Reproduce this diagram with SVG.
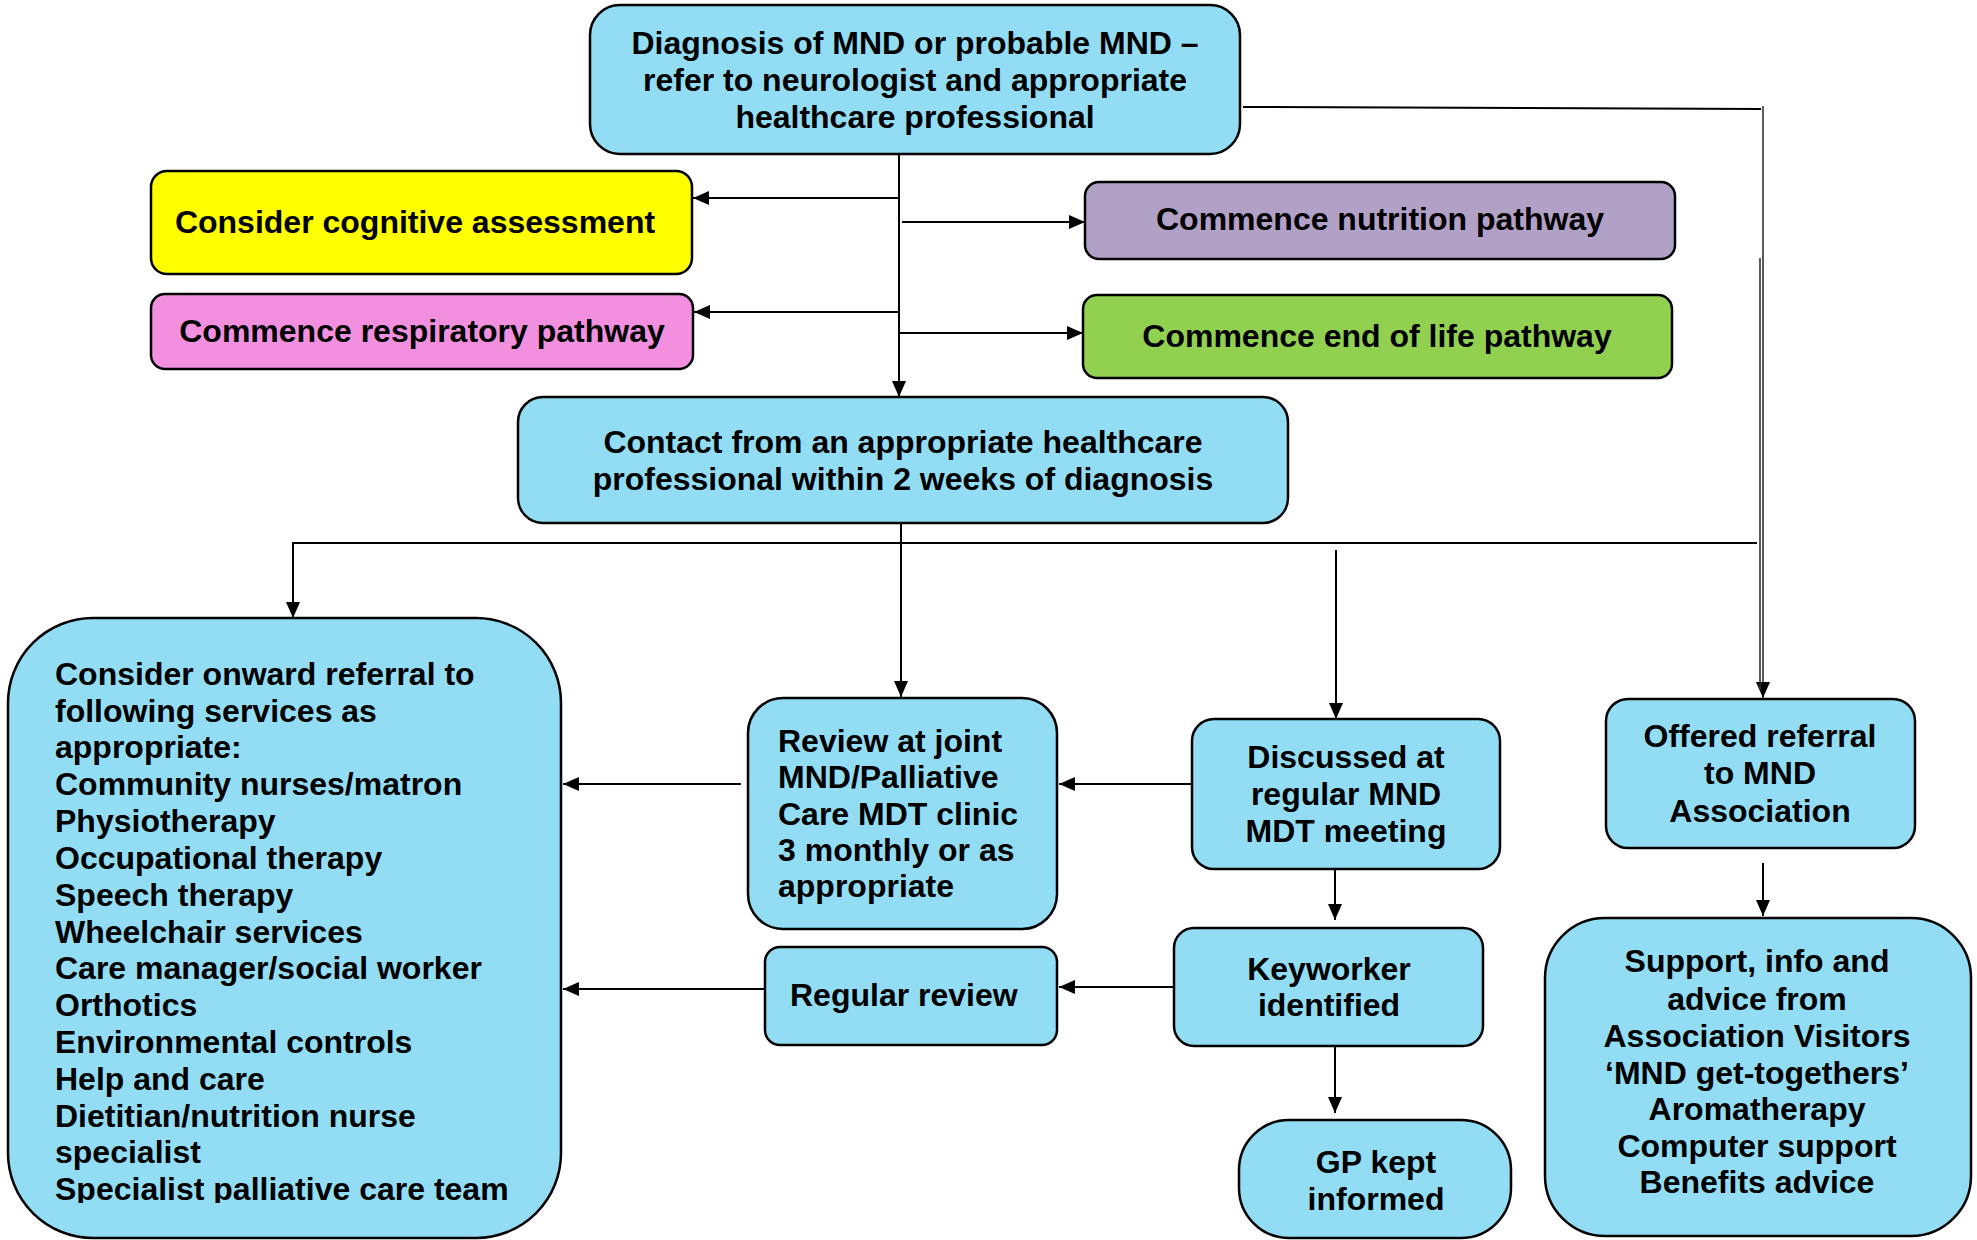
<svg xmlns="http://www.w3.org/2000/svg" width="1977" height="1240" viewBox="0 0 1977 1240">
<style>
.box{stroke:#000;stroke-width:2.5}
.blue{fill:#92DDF4}
.t{font-family:"Liberation Sans",Arial,sans-serif;font-weight:bold;font-size:32px;fill:#000}
.c{text-anchor:middle}
.ln{stroke:#000;stroke-width:2;fill:none}
.dl{stroke:#333;stroke-width:1.6;fill:none}
</style>
<defs>
<marker id="ah" markerUnits="userSpaceOnUse" markerWidth="16" markerHeight="14" refX="16" refY="7" orient="auto">
<path d="M0,0 L16,7 L0,14 z" fill="#000"/>
</marker>
<clipPath id="lclip"><rect x="0" y="600" width="600" height="603"/></clipPath>
</defs>
<rect width="1977" height="1240" fill="#fff"/>

<g id="connectors">
<path class="ln" d="M899,148 V397" marker-end="url(#ah)"/>
<path class="ln" d="M899,198 H693" marker-end="url(#ah)"/>
<path class="ln" d="M902,222 H1085" marker-end="url(#ah)"/>
<path class="ln" d="M899,312 H694" marker-end="url(#ah)"/>
<path class="ln" d="M899,333 H1083" marker-end="url(#ah)"/>
<path class="ln" d="M1243,107 L1761,109"/>
<path class="dl" d="M1763,106 V698" marker-end="url(#ah)"/>
<path class="dl" d="M1760,258 V690"/>
<path class="ln" d="M901,523 V697" marker-end="url(#ah)"/>
<path class="ln" d="M1757,543 H293 V618" marker-end="url(#ah)"/>
<path class="ln" d="M1336,550 V719" marker-end="url(#ah)"/>
<path class="ln" d="M741,784 H563" marker-end="url(#ah)"/>
<path class="ln" d="M1196,784 H1059" marker-end="url(#ah)"/>
<path class="ln" d="M765,989 H563" marker-end="url(#ah)"/>
<path class="ln" d="M1335,869 V920" marker-end="url(#ah)"/>
<path class="ln" d="M1174,987 H1059" marker-end="url(#ah)"/>
<path class="ln" d="M1335,1046 V1113" marker-end="url(#ah)"/>
<path class="ln" d="M1763,863 V916" marker-end="url(#ah)"/>
</g>

<g id="diagnosis">
<rect class="box blue" x="590" y="5" width="650" height="149" rx="30"/>
<text class="t c" x="915" y="54">Diagnosis of MND or probable MND –</text>
<text class="t c" x="915" y="91">refer to neurologist and appropriate</text>
<text class="t c" x="915" y="128">healthcare professional</text>
</g>

<g id="cognitive">
<rect class="box" fill="#FFFF00" x="151" y="171" width="541" height="103" rx="16"/>
<text class="t c" x="415" y="233">Consider cognitive assessment</text>
</g>

<g id="respiratory">
<rect class="box" fill="#F290DF" x="151" y="294" width="542" height="75" rx="14"/>
<text class="t c" x="422" y="342">Commence respiratory pathway</text>
</g>

<g id="nutrition">
<rect class="box" fill="#B2A1C7" x="1085" y="182" width="590" height="77" rx="14"/>
<text class="t c" x="1380" y="230">Commence nutrition pathway</text>
</g>

<g id="endoflife">
<rect class="box" fill="#92D050" x="1083" y="295" width="589" height="83" rx="14"/>
<text class="t c" x="1377" y="347">Commence end of life pathway</text>
</g>

<g id="contact">
<rect class="box blue" x="518" y="397" width="770" height="126" rx="25"/>
<text class="t c" x="903" y="453">Contact from an appropriate healthcare</text>
<text class="t c" x="903" y="490">professional within 2 weeks of diagnosis</text>
</g>

<g id="onward">
<rect class="box blue" x="8" y="618" width="553" height="620" rx="85"/>
<g clip-path="url(#lclip)">
<text class="t" x="55" y="685">Consider onward referral to</text>
<text class="t" x="55" y="722">following services as</text>
<text class="t" x="55" y="758">appropriate:</text>
<text class="t" x="55" y="795">Community nurses/matron</text>
<text class="t" x="55" y="832">Physiotherapy</text>
<text class="t" x="55" y="869">Occupational therapy</text>
<text class="t" x="55" y="906">Speech therapy</text>
<text class="t" x="55" y="943">Wheelchair services</text>
<text class="t" x="55" y="979">Care manager/social worker</text>
<text class="t" x="55" y="1016">Orthotics</text>
<text class="t" x="55" y="1053">Environmental controls</text>
<text class="t" x="55" y="1090">Help and care</text>
<text class="t" x="55" y="1127">Dietitian/nutrition nurse</text>
<text class="t" x="55" y="1163">specialist</text>
<text class="t" x="55" y="1200">Specialist palliative care team</text>
</g>
</g>

<g id="review">
<rect class="box blue" x="748" y="698" width="309" height="231" rx="35"/>
<text class="t" x="778" y="752">Review at joint</text>
<text class="t" x="778" y="788">MND/Palliative</text>
<text class="t" x="778" y="825">Care MDT clinic</text>
<text class="t" x="778" y="861">3 monthly or as</text>
<text class="t" x="778" y="897">appropriate</text>
</g>

<g id="regular">
<rect class="box blue" x="765" y="947" width="292" height="98" rx="15"/>
<text class="t" x="790" y="1006">Regular review</text>
</g>

<g id="discussed">
<rect class="box blue" x="1192" y="719" width="308" height="150" rx="22"/>
<text class="t c" x="1346" y="768">Discussed at</text>
<text class="t c" x="1346" y="805">regular MND</text>
<text class="t c" x="1346" y="842">MDT meeting</text>
</g>

<g id="keyworker">
<rect class="box blue" x="1174" y="928" width="309" height="118" rx="20"/>
<text class="t c" x="1329" y="980">Keyworker</text>
<text class="t c" x="1329" y="1016">identified</text>
</g>

<g id="gp">
<rect class="box blue" x="1239" y="1120" width="272" height="118" rx="50"/>
<text class="t c" x="1376" y="1173">GP kept</text>
<text class="t c" x="1376" y="1210">informed</text>
</g>

<g id="offered">
<rect class="box blue" x="1606" y="699" width="309" height="149" rx="22"/>
<text class="t c" x="1760" y="747">Offered referral</text>
<text class="t c" x="1760" y="784">to MND</text>
<text class="t c" x="1760" y="822">Association</text>
</g>

<g id="support">
<rect class="box blue" x="1545" y="918" width="426" height="318" rx="60"/>
<text class="t c" x="1757" y="972">Support, info and</text>
<text class="t c" x="1757" y="1010">advice from</text>
<text class="t c" x="1757" y="1047">Association Visitors</text>
<text class="t c" x="1757" y="1084">‘MND get-togethers’</text>
<text class="t c" x="1757" y="1120">Aromatherapy</text>
<text class="t c" x="1757" y="1157">Computer support</text>
<text class="t c" x="1757" y="1193">Benefits advice</text>
</g>
</svg>
